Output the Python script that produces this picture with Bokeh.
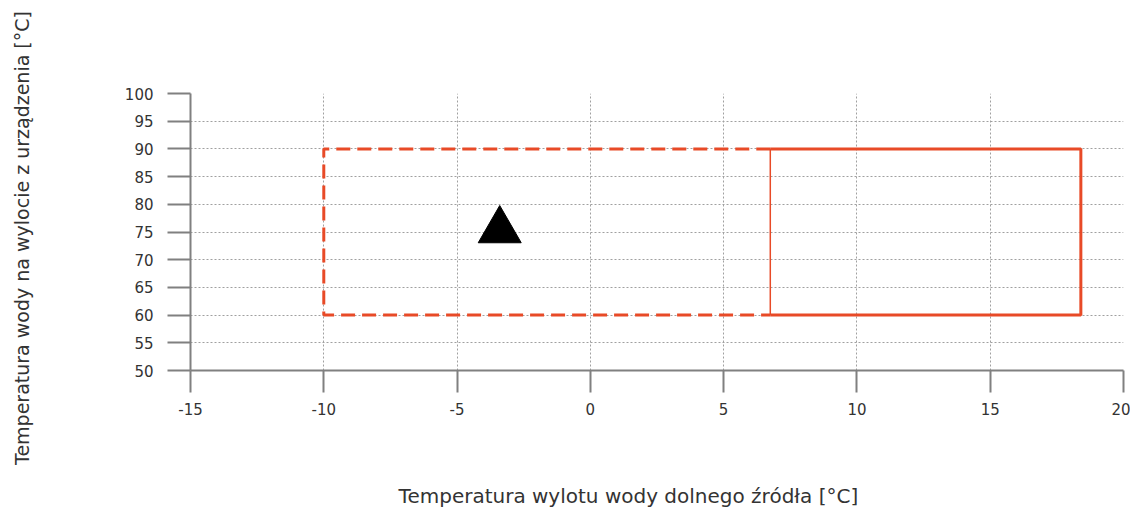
from bokeh.plotting import figure
from bokeh.embed import file_html
from bokeh.resources import INLINE
from bokeh.models import FixedTicker

# Data
x_ticks = [-15, -10, -5, 0, 5, 10, 15, 20]
x_labels = ["-15", "-10", "-5", "0", "5", "10", "15", "20"]
y_ticks = [50, 55, 60, 65, 70, 75, 80, 85, 90, 95, 100]
y_labels = ["50", "55", "60", "65", "70", "75", "80", "85", "90", "95", "100"]
x_range = (-15, 20)
y_range = (50, 100)
x_title = "Temperatura wylotu wody dolnego źródła [°C]"
y_title = "Temperatura wody na wylocie z urządzenia [°C]"

# Dashed region (extended operating area)
dash_x = [6.75, -10, -10, 6.75]
dash_y = [90, 90, 60, 60]
# Solid region (standard operating area)
solid_x = [6.75, 18.4, 18.4, 6.75]
solid_y = [90, 90, 60, 60]
# Divider between regions
div_x = [6.75, 6.75]
div_y = [60, 90]
# Operating point marker
pt_x = [-3.4]
pt_y = [75.3]

RED = "#e84a27"
AXC = "#808080"
TXT = "#333333"
FONT = "DejaVu Sans"
PAD = "\u00a0"

p = figure(width=1130, height=512, output_backend="svg", toolbar_location=None,
           x_range=x_range, y_range=y_range,
           min_border_left=190, min_border_right=7, min_border_top=93, min_border_bottom=142)
p.outline_line_color = None

p.line(dash_x, dash_y, line_color=RED, line_width=3, line_dash="14 7")
p.line(solid_x, solid_y, line_color=RED, line_width=3)
p.line(div_x, div_y, line_color=RED, line_width=1.5)
p.scatter(pt_x, pt_y, marker="triangle", size=43, fill_color="black", line_color="black")

for ax in (p.xaxis[0], p.yaxis[0]):
    ax.axis_line_color = AXC
    ax.axis_line_width = 2
    ax.major_tick_line_color = AXC
    ax.major_tick_line_width = 2
    ax.major_tick_in = 0
    ax.minor_tick_line_color = None
    ax.major_label_text_font = FONT
    ax.major_label_text_font_size = "15px"
    ax.major_label_text_color = TXT
    ax.axis_label_text_font = FONT
    ax.axis_label_text_font_style = "normal"
    ax.axis_label_text_color = TXT

p.xaxis.axis_label_text_font_size = "20px"
p.yaxis.axis_label_text_font_size = "19px"
p.xaxis.ticker = FixedTicker(ticks=x_ticks)
p.yaxis.ticker = FixedTicker(ticks=y_ticks)
p.xaxis.major_label_overrides = dict(zip(x_ticks, x_labels))
p.yaxis.major_label_overrides = dict(zip(y_ticks, y_labels))
p.xaxis.major_tick_out = 22
p.yaxis.major_tick_out = 23
p.xaxis.major_label_standoff = 10
p.yaxis.major_label_standoff = 14
# trailing non-breaking spaces shift the visible titles off-centre as in the reference
p.xaxis.axis_label = x_title + PAD * 9
p.yaxis.axis_label = y_title + PAD * 2
p.xaxis.axis_label_standoff = 66
p.yaxis.axis_label_standoff = 89

p.grid.grid_line_color = "#a0a0a0"
p.grid.grid_line_dash = "2 2"
p.grid.grid_line_width = 1
p.xgrid.ticker = FixedTicker(ticks=x_ticks)
p.ygrid.ticker = FixedTicker(ticks=y_ticks)

open("out.html", "w").write(file_html(p, INLINE))
